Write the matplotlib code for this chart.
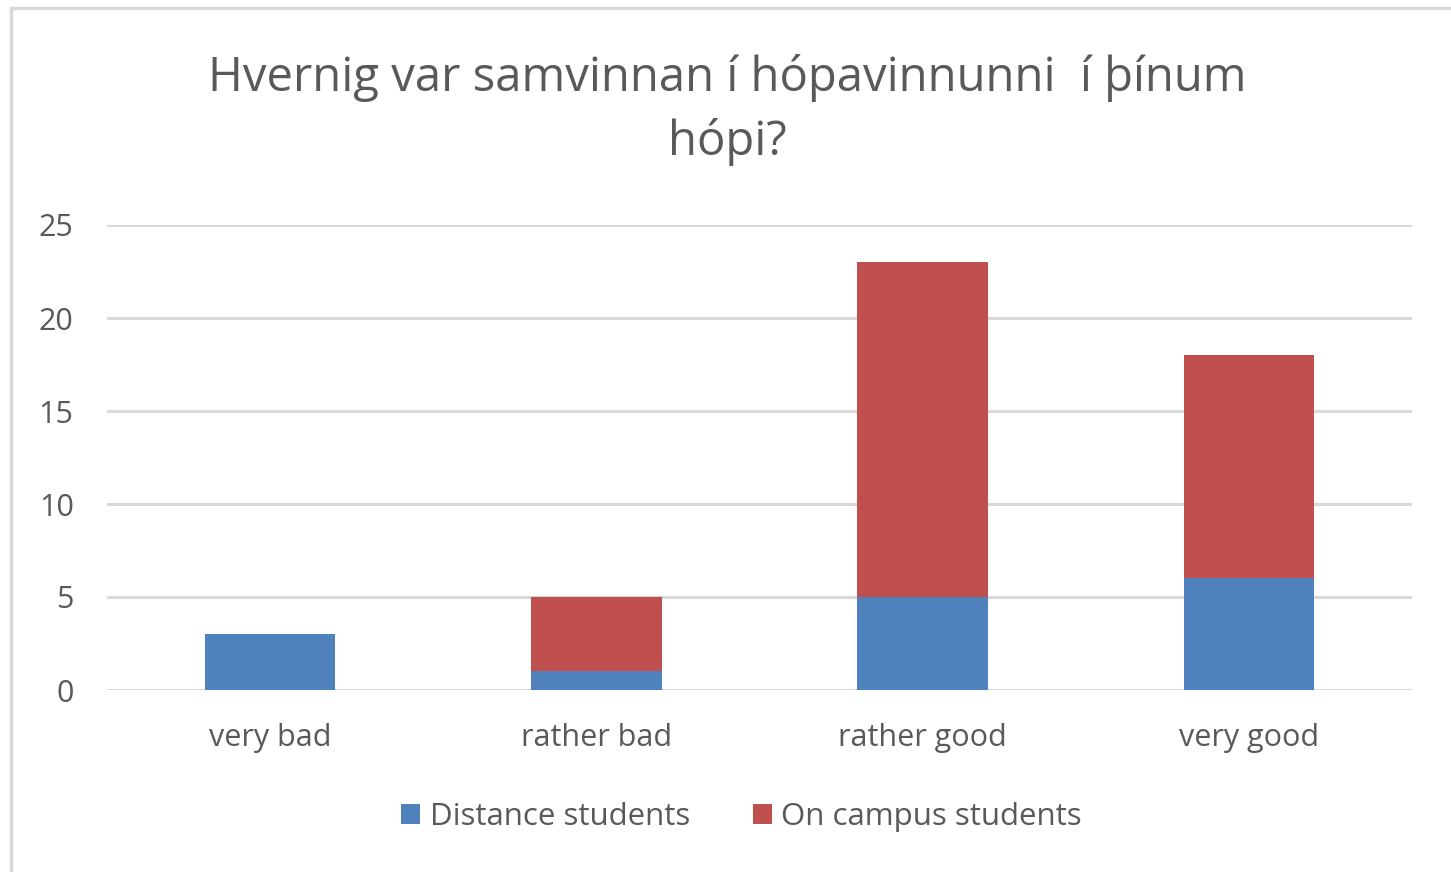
import matplotlib.pyplot as plt
from matplotlib.patches import Rectangle
import numpy as np

categories = ['very bad', 'rather bad', 'rather good', 'very good']
distance = [3, 1, 5, 6]
on_campus = [0, 4, 18, 12]
series_names = ['Distance students', 'On campus students']
title = 'Hvernig var samvinnan í hópavinnunni  í þínum\nhópi?'

plt.rcParams['font.family'] = ['Open Sans', 'DejaVu Sans']
txt = '#595959'
blue = '#4F81BD'
red = '#C0504D'

fig = plt.figure(figsize=(14.51, 8.72), dpi=100)
fig.patches.append(Rectangle((11 / 1451, -0.1), 1.2, 1 - 8 / 872 + 0.1,
                             transform=fig.transFigure, fill=False,
                             edgecolor='#D9D9D9', linewidth=2.5))
ax = fig.add_axes([107 / 1451, 1 - 690 / 872, 1305 / 1451, 465 / 872])

x = np.arange(len(categories))
ax.bar(x, distance, width=0.4, color=blue, label=series_names[0], zorder=3)
ax.bar(x, on_campus, width=0.4, bottom=distance, color=red,
       label=series_names[1], zorder=3)

ax.set_xlim(-0.5, 3.5)
ax.set_ylim(0, 25)
ax.set_yticks([0, 5, 10, 15, 20, 25])
ax.yaxis.grid(True, color='#D9D9D9', linewidth=2.2, zorder=0)
for s in ax.spines.values():
    s.set_visible(False)
ax.set_xticks(x)
ax.set_xticklabels(categories)
ax.tick_params(axis='both', length=0, labelsize=22, colors=txt)
ax.tick_params(axis='x', pad=24)
ax.tick_params(axis='y', pad=24)

fig.text(0.501, 1 - 110 / 872, title, ha='center', va='center',
         fontsize=34, color=txt, linespacing=1.42)

leg = fig.legend(loc='center', bbox_to_anchor=(0.511, 1 - 817 / 872), ncol=2,
                 frameon=False, fontsize=22.5, handlelength=0.62, handleheight=0.62,
                 handletextpad=0.3, columnspacing=2.0)
for t in leg.get_texts():
    t.set_color(txt)

fig.savefig('out.png', dpi=100)
